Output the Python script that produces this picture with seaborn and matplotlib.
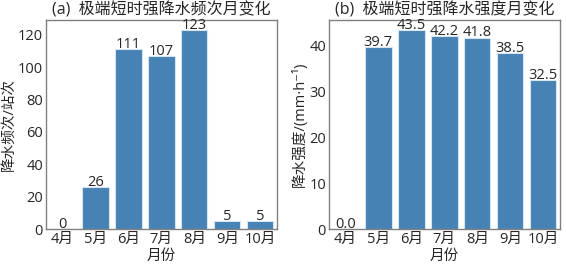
import seaborn as sns
import matplotlib.pyplot as plt
import pandas as pd

months = ['4月', '5月', '6月', '7月', '8月', '9月', '10月']
freq = [0, 26, 111, 107, 123, 5, 5]
intensity = [0.0, 39.7, 43.5, 42.2, 41.8, 38.5, 32.5]

sns.set_theme(style='white')
plt.rcParams['font.family'] = ['Open Sans', 'Noto Sans CJK SC', 'DejaVu Sans']
plt.rcParams['axes.unicode_minus'] = False

df = pd.DataFrame({'月份': months, '频次': freq, '强度': intensity})

fig = plt.figure(figsize=(5.66, 2.65), dpi=100)
ax1 = fig.add_axes([0.081, 0.135, 0.408, 0.79])
ax2 = fig.add_axes([0.581, 0.135, 0.408, 0.79])

# (a) 频次
sns.barplot(data=df, x='月份', y='频次', ax=ax1, color='steelblue',
            saturation=1, edgecolor='#d6e4f0', linewidth=0.8)
ax1.bar_label(ax1.containers[0], labels=[str(v) for v in freq],
              fontsize=10.5, padding=-2)
ax1.set_title('(a)  极端短时强降水频次月变化', fontsize=11.5, pad=4)
ax1.set_ylabel('降水频次/站次', fontsize=10.5, labelpad=1)
ax1.set_xlabel('月份', fontsize=10.5, labelpad=1.5)

# (b) 强度
sns.barplot(data=df, x='月份', y='强度', ax=ax2, color='steelblue',
            saturation=1, edgecolor='#d6e4f0', linewidth=0.8)
ax2.bar_label(ax2.containers[0], labels=[f'{v:.1f}' for v in intensity],
              fontsize=10.5, padding=-2)
ax2.set_title('(b)  极端短时强降水强度月变化', fontsize=11.5, pad=4)
ax2.set_ylabel('降水强度/(mm·h⁻¹)', fontsize=10.5, labelpad=1)
ax2.set_xlabel('月份', fontsize=10.5, labelpad=1.5)

for ax in (ax1, ax2):
    ax.tick_params(labelsize=10.5, length=0, pad=2)
    for s in ax.spines.values():
        s.set_color('gray')
        s.set_linewidth(1)

fig.savefig('out.png', dpi=100)
